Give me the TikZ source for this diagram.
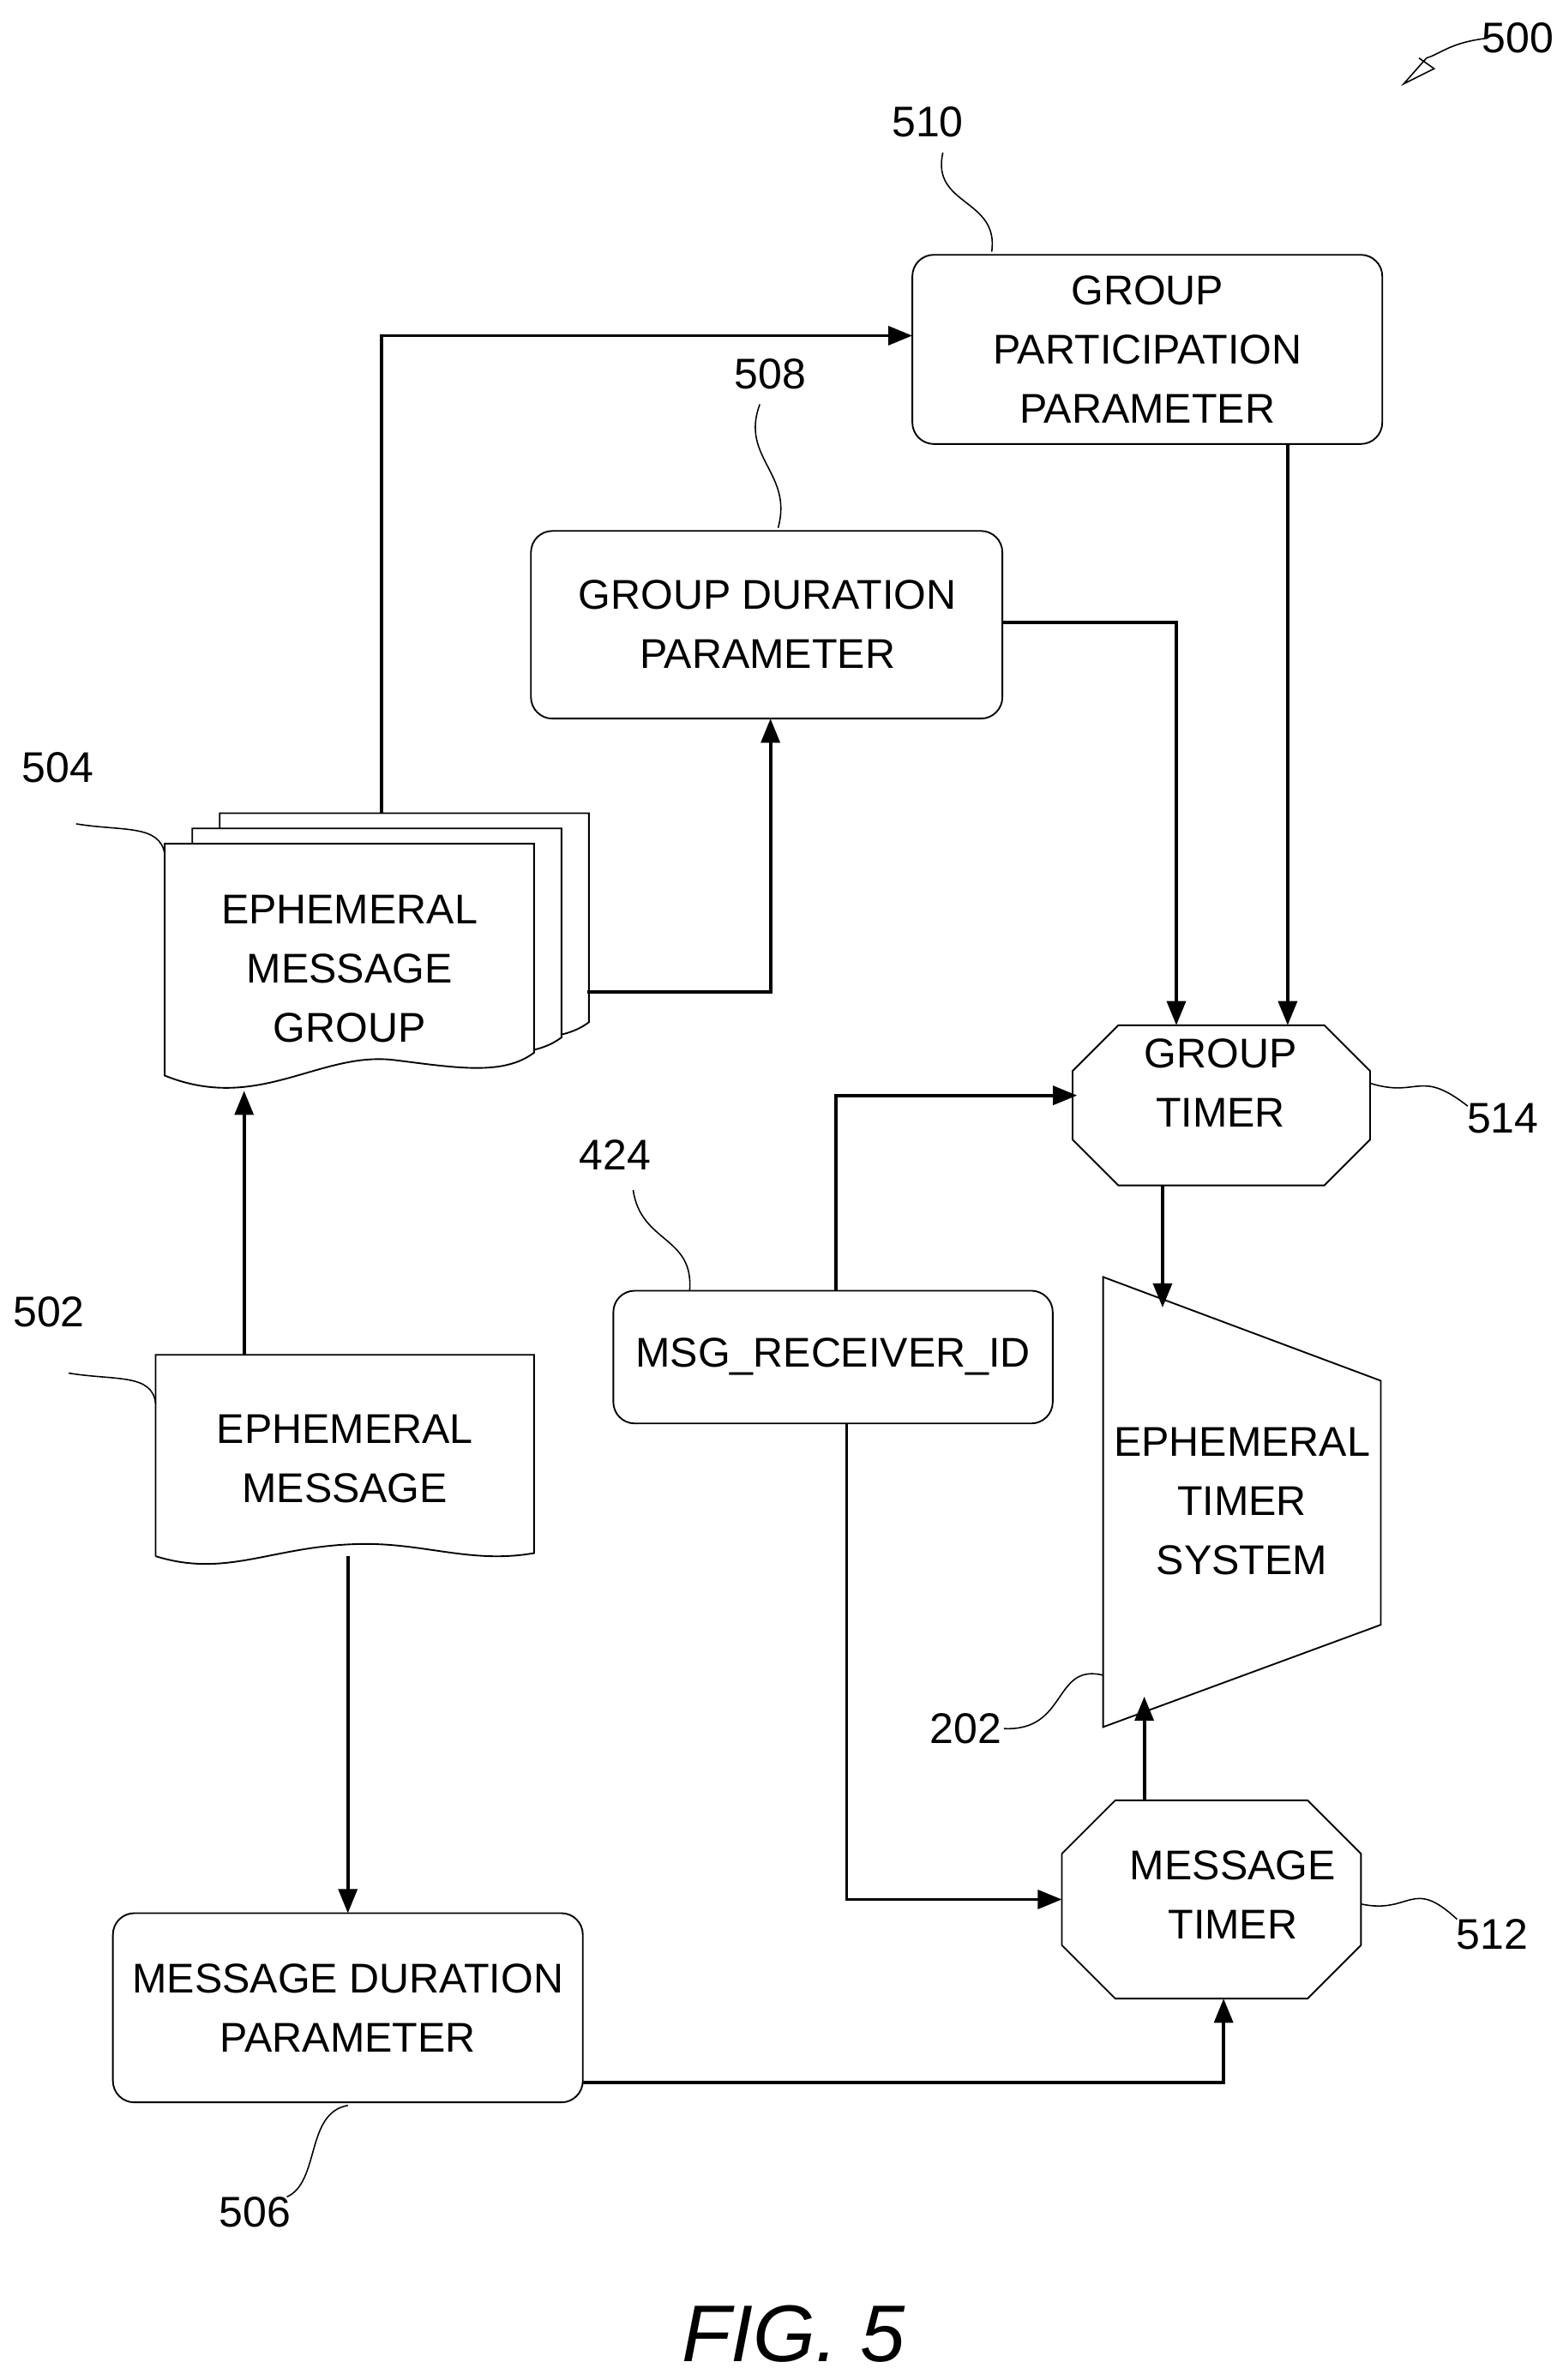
\documentclass[tikz,border=0pt]{standalone}
\usepackage{fontspec}
\setmainfont{Liberation Sans}
\usetikzlibrary{arrows.meta}
\begin{document}
\begin{tikzpicture}[x=0.02cm,y=-0.02cm]
    \tikzstyle{boite}=[draw, rounded corners=8, line width=0.6pt, fill=white]
    \tikzstyle{texte}=[align=center, font=\fontsize{15.5}{22}\selectfont]
    \tikzstyle{fleche}=[line width=1.2pt, -{Triangle[length=9pt,width=7pt]}]
    \tikzstyle{repere}=[line width=0.5pt]
    \tikzstyle{numero}=[font=\fontsize{16}{20}\selectfont]

    \useasboundingbox (0,0) rectangle (1024,1560);

    % boxes
    \draw [boite] (598,167) rectangle (906,291);
    \node [texte] (partic) at (752,229) {GROUP\\PARTICIPATION\\PARAMETER};
    \draw [boite] (348,348) rectangle (657,471);
    \node [texte] (duree) at (503,409) {GROUP DURATION\\PARAMETER};
    \draw [boite] (74,1254) rectangle (382,1378);
    \node [texte] (msgduree) at (228,1316) {MESSAGE DURATION\\PARAMETER};
    \draw [boite] (402,846) rectangle (690,933);
    \node [texte] (recv) at (546,889) {MSG\_RECEIVER\_ID};

    % document stack
    \foreach \dx/\dy in {36/20,18/10,0/0}
      \draw [line width=0.6pt, fill=white] (108+\dx,553-\dy) -- (350+\dx,553-\dy) -- (350+\dx,690-\dy)
        .. controls (330+\dx,705-\dy) and (300+\dx,700-\dy) .. (260+\dx,695-\dy)
        .. controls (210+\dx,688-\dy) and (170+\dx,730-\dy) .. (108+\dx,705-\dy) -- cycle;
    \node [texte] (groupe) at (229,635) {EPHEMERAL\\MESSAGE\\GROUP};

    % single document
    \draw [line width=0.6pt] (102,1020) -- (102,888) -- (350,888) -- (350,1018)
      .. controls (310,1025) and (280,1012) .. (240,1012) .. controls (180,1012) and (150,1035) .. (102,1020);
    \node [texte] (message) at (226,956) {EPHEMERAL\\MESSAGE};

    % timers
    \draw [line width=0.6pt] (733,672) -- (868,672) -- (898,702) -- (898,747) -- (868,777)
      -- (733,777) -- (703,747) -- (703,702) -- cycle;
    \node [texte] (gtimer) at (800,710) {GROUP\\TIMER};
    \draw [line width=0.6pt] (731,1180) -- (857,1180) -- (892,1215) -- (892,1275) -- (857,1310)
      -- (731,1310) -- (696,1275) -- (696,1215) -- cycle;
    \node [texte] (mtimer) at (808,1242) {MESSAGE\\TIMER};
    \draw [line width=0.6pt] (723,837) -- (905,905) -- (905,1065) -- (723,1132) -- cycle;
    \node [texte] (systeme) at (814,984) {EPHEMERAL\\TIMER\\SYSTEM};

    % connectors
    \draw [fleche] (250,533) -- (250,220) -- (598,220);
    \draw [fleche] (385,650) -- (505,650) -- (505,471);
    \draw [fleche] (657,408) -- (771,408) -- (771,672);
    \draw [fleche] (844,291) -- (844,672);
    \draw [fleche] (548,846) -- (548,718) -- (706,718);
    \draw [fleche] (762,777) -- (762,857);
    \draw [fleche] (160,888) -- (160,715);
    \draw [fleche] (228,1020) -- (228,1254);
    \draw [fleche] (555,933) -- (555,1245) -- (696,1245);
    \draw [fleche] (382,1365) -- (802,1365) -- (802,1310);
    \draw [fleche] (750,1180) -- (750,1112);

    % reference numerals
    \node [numero] (n510) at (608,80) {510};
    \draw [repere] (650,165) .. controls (655,130) and (610,135) .. (618,100);
    \node [numero] (n508) at (505,245) {508};
    \draw [repere] (510,346) .. controls (520,310) and (485,300) .. (498,265);
    \node [numero] (n504) at (38,503) {504};
    \draw [repere] (108,560) .. controls (105,540) and (80,545) .. (50,540);
    \node [numero] (n502) at (32,860) {502};
    \draw [repere] (102,920) .. controls (100,900) and (75,905) .. (45,900);
    \node [numero] (n506) at (167,1450) {506};
    \draw [repere] (228,1380) .. controls (200,1385) and (210,1430) .. (188,1440);
    \node [numero] (n424) at (403,757) {424};
    \draw [repere] (452,846) .. controls (455,810) and (420,815) .. (415,780);
    \node [numero] (n514) at (985,733) {514};
    \draw [repere] (898,710) .. controls (930,720) and (930,700) .. (962,725);
    \node [numero] (n512) at (978,1268) {512};
    \draw [repere] (892,1248) .. controls (925,1255) and (925,1230) .. (955,1258);
    \node [numero] (n202) at (633,1133) {202};
    \draw [repere] (723,1098) .. controls (690,1090) and (700,1135) .. (658,1133);
    \node [numero] (n500) at (995,25) {500};
    \draw [repere] (975,25) .. controls (950,28) and (945,35) .. (935,38);
    \draw [repere] (935,38) -- (920,55) -- (940,45) -- (930,38);

    \node [font=\fontsize{30}{36}\selectfont\itshape] (fig) at (520,1530) {FIG. 5};
\end{tikzpicture}
\end{document}
